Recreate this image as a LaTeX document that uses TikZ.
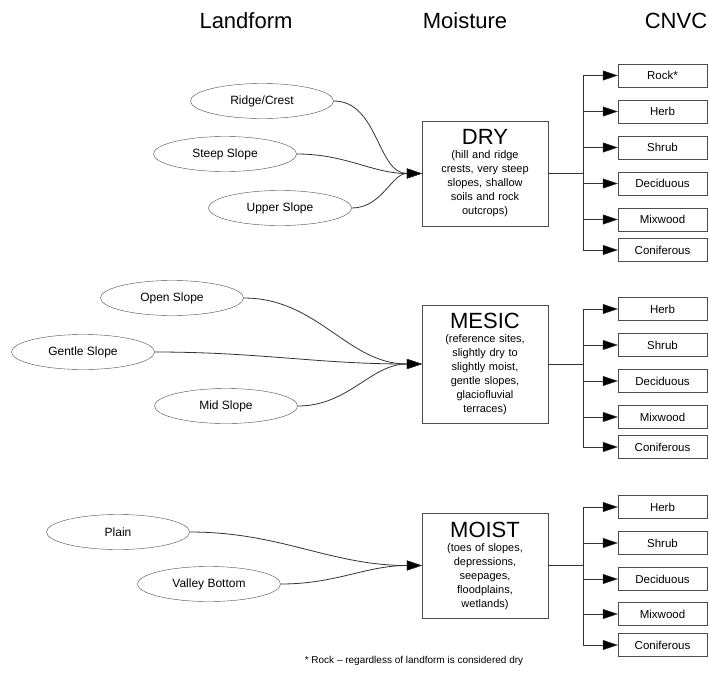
\documentclass[tikz,border=0pt]{standalone}
\usepackage{fontspec}
\setmainfont{Liberation Sans}
\usetikzlibrary{arrows.meta,shapes.geometric}

\begin{document}
\begin{tikzpicture}[x=1pt, y=-1pt,
  header/.style={font=\fontsize{22}{26}\selectfont},
  landform/.style={draw=black!70, ellipse, minimum width=143pt, minimum height=35pt, inner sep=0pt, font=\fontsize{12}{14}\selectfont},
  moisture/.style={draw=black!70, rectangle, minimum width=126pt, text width=120pt, align=center, inner sep=0pt, font=\fontsize{11}{14}\selectfont},
  cnvc/.style={draw=black!70, rectangle, minimum width=89pt, minimum height=23pt, inner sep=0pt, font=\fontsize{11.5}{14}\selectfont},
  edge/.style={draw=black!80, line width=0.8pt, -{Triangle[length=15pt,width=10pt,fill=black,line width=0.4pt]}},
]
\useasboundingbox (0,0) rectangle (709,675);

% Column headers
\node[header] (hland) at (246,21) {Landform};
\node[header] (hmoist) at (465,21) {Moisture};
\node[header] (hcnvc) at (676,21) {CNVC};

% Dry group
\node[landform] (ridge) at (262,101) {Ridge/Crest};
\node[landform] (steep) at (225,154) {Steep Slope};
\node[landform] (upper) at (280,208) {Upper Slope};
\node[moisture, minimum height=105pt] (dry) at (485,173.5) {{\fontsize{22}{22}\selectfont DRY}\\(hill and ridge\\crests, very steep\\slopes, shallow\\soils and rock\\outcrops)};
\node[cnvc] (dryrock) at (662.5,75.5) {Rock*};
\node[cnvc] (dryherb) at (662.5,111.5) {Herb};
\node[cnvc] (dryshrub) at (662.5,147.5) {Shrub};
\node[cnvc] (drydecid) at (662.5,183.5) {Deciduous};
\node[cnvc] (drymix) at (662.5,219.5) {Mixwood};
\node[cnvc] (drycon) at (662.5,250) {Coniferous};
\draw[edge] (ridge.east) to[out=0,in=180] (dry.west);
\draw[edge] (steep.east) to[out=0,in=180] (dry.west);
\draw[edge] (upper.east) to[out=0,in=180] (dry.west);
\draw[edge] (dry.east) -- ++(35,0) |- (dryrock.west);
\draw[edge] (dry.east) -- ++(35,0) |- (dryherb.west);
\draw[edge] (dry.east) -- ++(35,0) |- (dryshrub.west);
\draw[edge] (dry.east) -- ++(35,0) |- (drydecid.west);
\draw[edge] (dry.east) -- ++(35,0) |- (drymix.west);
\draw[edge] (dry.east) -- ++(35,0) |- (drycon.west);

% Mesic group
\node[landform] (open) at (172,298) {Open Slope};
\node[landform] (gentle) at (83,352) {Gentle Slope};
\node[landform] (mid) at (226,406) {Mid Slope};
\node[moisture, minimum height=118pt] (mesic) at (485,364) {{\fontsize{22}{22}\selectfont MESIC}\\(reference sites,\\slightly dry to\\slightly moist,\\gentle slopes,\\glaciofluvial\\terraces)};
\node[cnvc] (mesherb) at (662.5,309) {Herb};
\node[cnvc] (messhrub) at (662.5,345) {Shrub};
\node[cnvc] (mesdecid) at (662.5,381) {Deciduous};
\node[cnvc] (mesmix) at (662.5,417) {Mixwood};
\node[cnvc] (mescon) at (662.5,447) {Coniferous};
\draw[edge] (open.east) to[out=0,in=180] (mesic.west);
\draw[edge] (gentle.east) to[out=0,in=180] (mesic.west);
\draw[edge] (mid.east) to[out=0,in=180] (mesic.west);
\draw[edge] (mesic.east) -- ++(35,0) |- (mesherb.west);
\draw[edge] (mesic.east) -- ++(35,0) |- (messhrub.west);
\draw[edge] (mesic.east) -- ++(35,0) |- (mesdecid.west);
\draw[edge] (mesic.east) -- ++(35,0) |- (mesmix.west);
\draw[edge] (mesic.east) -- ++(35,0) |- (mescon.west);

% Moist group
\node[landform] (plain) at (118,532) {Plain};
\node[landform] (valley) at (209,584) {Valley Bottom};
\node[moisture, minimum height=105pt] (moist) at (485,565.5) {{\fontsize{22}{22}\selectfont MOIST}\\(toes of slopes,\\depressions,\\seepages,\\floodplains,\\wetlands)};
\node[cnvc] (moiherb) at (662.5,507) {Herb};
\node[cnvc] (moishrub) at (662.5,543) {Shrub};
\node[cnvc] (moidecid) at (662.5,579) {Deciduous};
\node[cnvc] (moimix) at (662.5,614) {Mixwood};
\node[cnvc] (moicon) at (662.5,645) {Coniferous};
\draw[edge] (plain.east) to[out=0,in=180] (moist.west);
\draw[edge] (valley.east) to[out=0,in=180] (moist.west);
\draw[edge] (moist.east) -- ++(35,0) |- (moiherb.west);
\draw[edge] (moist.east) -- ++(35,0) |- (moishrub.west);
\draw[edge] (moist.east) -- ++(35,0) |- (moidecid.west);
\draw[edge] (moist.east) -- ++(35,0) |- (moimix.west);
\draw[edge] (moist.east) -- ++(35,0) |- (moicon.west);

% Footnote
\node[font=\fontsize{10}{12}\selectfont] (note) at (414,661) {* Rock -- regardless of landform is considered dry};
\end{tikzpicture}
\end{document}
